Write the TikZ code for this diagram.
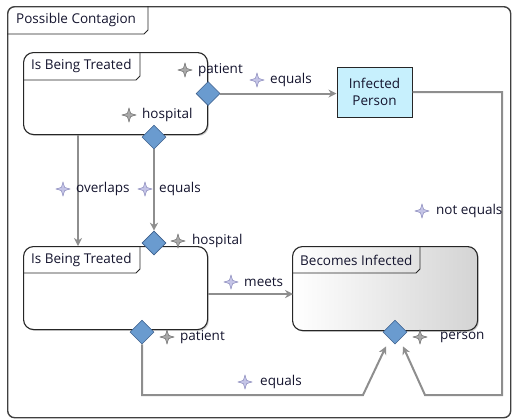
\documentclass[tikz,border=0pt]{standalone}
\usepackage{fontspec}
\setmainfont{Open Sans}
\usetikzlibrary{shapes.geometric,arrows.meta,calc,shadows}
\definecolor{diaf}{HTML}{6A9BCF}
\definecolor{diad}{HTML}{3C5F8C}
\definecolor{linec}{HTML}{8E8E8E}
\definecolor{ipf}{HTML}{C7F0FD}
\definecolor{txtc}{HTML}{14142E}
\definecolor{rstarf}{HTML}{C4C4E6}
\definecolor{rstard}{HTML}{7E7EB4}
\definecolor{astarf}{HTML}{A8A8A8}
\definecolor{astard}{HTML}{606060}
\tikzset{
  txt/.style={font=\fontsize{13.5}{15}\selectfont, text=txtc},
  stbox/.style={draw=black!85, line width=1.1pt, rounded corners=10pt, fill=white,
    inner sep=0pt, anchor=north west,
    drop shadow={shadow xshift=1.3pt, shadow yshift=-1.3pt, opacity=0.35, fill=black!55}},
  tabline/.style={draw=black!85, line width=0.9pt},
  tabtext/.style={txt, anchor=west, inner sep=0pt},
  dia/.style={diamond, draw=diad, fill=diaf, minimum width=24pt, minimum height=24pt,
    inner sep=0pt, line width=0.6pt},
  conn/.style={draw=linec, line width=2pt},
  tip/.style={-{Stealth[length=8pt,width=8pt,inset=2.5pt]}},
  astar/.style={star, star points=4, star point ratio=3.0, minimum size=14pt, inner sep=0pt,
    fill=astarf, draw=astard, line width=0.4pt},
  rstar/.style={star, star points=4, star point ratio=3.0, minimum size=14pt, inner sep=0pt,
    fill=rstarf, draw=rstard, line width=0.4pt},
  lbl/.style={txt, anchor=west, inner sep=0pt},
}
\begin{document}
\begin{tikzpicture}[x=1pt,y=-1pt]
\useasboundingbox (0,0) rectangle (513,418);
% outer frame
\node[draw=black!75, line width=1.4pt, rounded corners=7pt, minimum width=503pt,
  minimum height=411pt, anchor=north west, inner sep=0pt] (fr) at (7,6) {};
\draw[tabline] ($(fr.north west)+(141,0)$) -- ++(0,24) -- ++(-4,4) -- ($(fr.north west)+(0,28)$);
\node[tabtext] (frt) at ($(fr.north west)+(9,14)$) {Possible Contagion};

% states
\node[stbox, minimum width=184pt, minimum height=82pt] (t1) at (23,52) {};
\node[stbox, minimum width=184pt, minimum height=83pt] (t2) at (23,246) {};
\node[stbox, minimum width=185pt, minimum height=84pt, left color=white, right color=black!17] (t3) at (292,246) {};

\draw[tabline] ($(t1.north west)+(117,0)$) -- ++(0,24) -- ++(-4,4) -- ($(t1.north west)+(0,28)$);
\node[tabtext] (t1t) at ($(t1.north west)+(8,14)$) {Is Being Treated};
\draw[tabline] ($(t2.north west)+(117,0)$) -- ++(0,23) -- ++(-4,4) -- ($(t2.north west)+(0,27)$);
\node[tabtext] (t2t) at ($(t2.north west)+(8,14)$) {Is Being Treated};
\draw[tabline] ($(t3.north west)+(128,0)$) -- ++(0,23) -- ++(-4,4) -- ($(t3.north west)+(0,27)$);
\node[tabtext] (t3t) at ($(t3.north west)+(8,14)$) {Becomes Infected};

% infected person
\node[draw=black!85, line width=1pt, fill=ipf, minimum width=75pt, minimum height=50pt,
  align=center, inner sep=0pt, font=\fontsize{13.5}{17}\selectfont, text=txtc] (ip) at (374.5,92) {Infected\\Person};

% diamonds
\node[dia] (d1p) at (t1.east) {};
\node[dia] (d1h) at ($(t1.south west)+(131,2)$) {};
\node[dia] (d2h) at ($(t2.north west)+(131,-3)$) {};
\node[dia] (d2p) at ($(t2.south west)+(119,2)$) {};
\node[dia] (d3p) at ($(t3.south west)+(103,1)$) {};

% connectors
\draw[conn, tip] (d1p.east) -- (d1p.east -| ip.west);
\draw[conn, tip] (d1h.south) -- (d2h.north);
\draw[conn, tip] ($(t1.south west)+(55,0)$) -- ($(t2.north west)+(55,0)$);
\draw[conn, tip] ($(t2.east)+(0,6)$) -- ($(t2.east)+(85,6)$);
\coordinate (c1) at ($(d3p.south)+(-9,2)$);
\coordinate (c2) at ($(d3p.south)+(8,2)$);
\draw[conn, tip] (d2p.south) |- (363,395) -- (c1);
\draw[conn, tip] (ip.east) -| (502,395) -- (425,395) -- (c2);

% labels
\node[astar] (s1) at (185,70) {};
\node[lbl] (l1) at (198,70) {patient};
\node[astar] (s2) at (129,115) {};
\node[lbl] (l2) at (142,115) {hospital};
\node[rstar] (s3) at (257,80) {};
\node[lbl] (l3) at (270,80) {equals};
\node[rstar] (s4) at (63,189) {};
\node[lbl] (l4) at (76,189) {overlaps};
\node[rstar] (s5) at (145,189) {};
\node[lbl] (l5) at (159,189) {equals};
\node[astar] (s6) at (178,241) {};
\node[lbl] (l6) at (192,241) {hospital};
\node[rstar] (s7) at (231,282) {};
\node[lbl] (l7) at (244,282) {meets};
\node[rstar] (s8) at (422,211) {};
\node[lbl] (l8) at (436,211) {not equals};
\node[astar] (s9) at (167,337) {};
\node[lbl] (l9) at (180,337) {patient};
\node[astar] (s10) at (420,337) {};
\node[lbl] (l10) at (440,337) {person};
\node[rstar] (s11) at (245,382) {};
\node[lbl] (l11) at (260,382) {equals};
\end{tikzpicture}
\end{document}
